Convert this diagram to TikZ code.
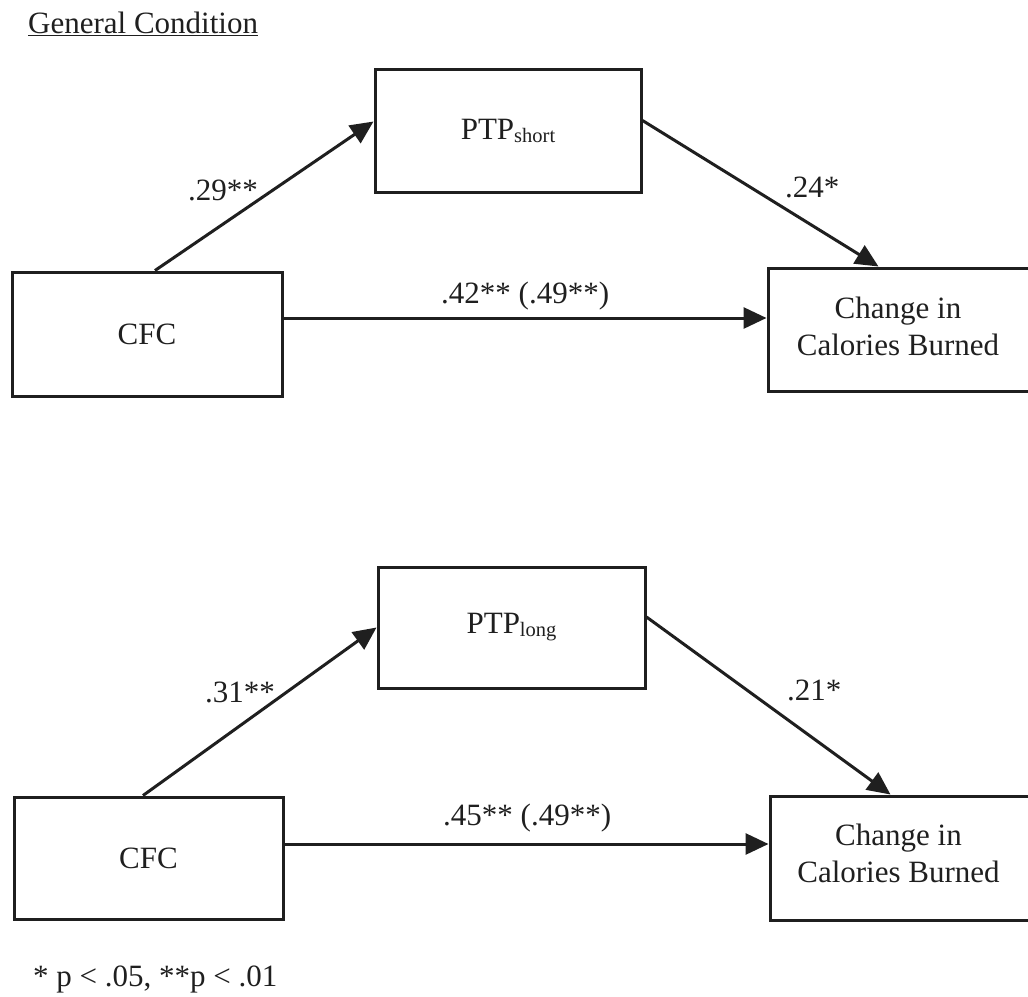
\documentclass[tikz,border=0pt]{standalone}
\usepackage{fontspec}
\setmainfont{Liberation Serif}
\usetikzlibrary{arrows.meta}
\begin{document}
\begin{tikzpicture}[x=1pt,y=-1pt,
  every node/.style={text=black!88},
  box/.style={draw=black!88, line width=3pt, inner sep=0pt, rectangle},
  txt/.style={font=\fontsize{31}{37}\selectfont, inner sep=0pt},
  arr/.style={draw=black!88, line width=3pt, -{Triangle[length=23pt,width=21pt]}},
  lab/.style={font=\fontsize{31}{37}\selectfont, inner sep=0pt, anchor=base west}]
\useasboundingbox (0,0) rectangle (1028,996);
\newcommand{\subtxt}[1]{\raisebox{-3pt}{\fontsize{20.5}{20.5}\selectfont #1}}

% ---------- top panel ----------
\node[lab] (title) at (28,33) {\underline{General Condition}};
\node[box,txt,minimum width=270pt,minimum height=124pt] (cfc1) at (147,334) {CFC};
\node[box,txt,minimum width=266pt,minimum height=123pt] (ptp1) at (508,130.5) {PTP\subtxt{short}};
\node[box,minimum width=300pt,minimum height=123pt] (chg1) at (918,329.5) {};
\node[txt,align=center] (chg1t) at (898,326) {Change in\\Calories Burned};

\draw[arr] ([xshift=8pt]cfc1.north) -- ([yshift=9pt]ptp1.west);
\draw[arr] ([yshift=10pt]ptp1.east) -- ([xshift=112pt]chg1.north west);
\draw[arr] ([yshift=16pt]cfc1.east) -- ([yshift=16pt]cfc1.east -| chg1.west);

\node[lab] (l1) at (188,200) {.29**};
\node[lab] (l2) at (785,197) {.24*};
\node[lab] (l3) at (441,303) {.42** (.49**)};

% ---------- bottom panel ----------
\node[box,txt,minimum width=269pt,minimum height=122pt] (cfc2) at (148.5,858) {CFC};
\node[box,txt,minimum width=267pt,minimum height=121pt] (ptp2) at (511.5,627.5) {PTP\subtxt{long}};
\node[box,minimum width=300pt,minimum height=124pt] (chg2) at (920,858) {};
\node[txt,align=center] (chg2t) at (898.5,853.5) {Change in\\Calories Burned};

\draw[arr] ([xshift=-5.5pt]cfc2.north) -- (ptp2.west);
\draw[arr] ([yshift=10.5pt]ptp2.east) -- ([xshift=122pt]chg2.north west);
\draw[arr] ([yshift=14pt]cfc2.east) -- ([yshift=14pt]cfc2.east -| chg2.west);

\node[lab] (l4) at (205,702) {.31**};
\node[lab] (l5) at (787,700) {.21*};
\node[lab] (l6) at (443,825) {.45** (.49**)};

\node[lab] (note) at (33,986) {* p < .05, **p < .01};
\end{tikzpicture}
\end{document}
